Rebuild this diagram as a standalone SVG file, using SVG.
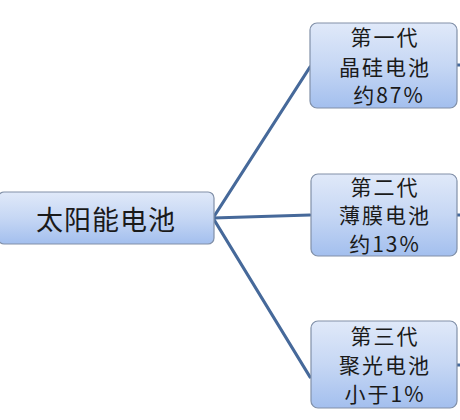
<svg xmlns="http://www.w3.org/2000/svg" width="460" height="420" viewBox="0 0 460 420">
<defs>
<linearGradient id="g" x1="0" y1="0" x2="0" y2="1">
<stop offset="0" stop-color="#e0e9f9"/>
<stop offset="0.5" stop-color="#c6d7f4"/>
<stop offset="1" stop-color="#a3bfee"/>
</linearGradient>
<style>
.box{fill:url(#g);stroke:#8190a8;stroke-width:1.2}
.t{font-family:"Noto Sans CJK SC","Liberation Serif",serif;fill:#1a1a1a;text-anchor:middle;dominant-baseline:central;font-size:21px;letter-spacing:2px}
.c{stroke:#46699a;stroke-width:3.2;fill:none;stroke-linecap:round}
</style>
</defs>
<rect width="460" height="420" fill="#ffffff"/>
<g id="connectors">
<line class="c" x1="213" y1="218" x2="310" y2="67"/>
<line class="c" x1="213" y1="218" x2="310" y2="215"/>
<line class="c" x1="213" y1="218" x2="310" y2="377"/>
<line class="c" x1="457" y1="65" x2="460" y2="65"/>
<line class="c" x1="457" y1="215" x2="460" y2="215"/>
<line class="c" x1="457" y1="365" x2="460" y2="365"/>
</g>
<g id="root">
<rect class="box" x="-2" y="192" width="216" height="52" rx="6"/>
<text class="t" x="106" y="218" style="font-size:27px;letter-spacing:1px">太阳能电池</text>
</g>
<g id="gen1">
<rect class="box" x="310" y="23" width="147" height="85" rx="7"/>
<text class="t" x="385" y="36">第一代</text>
<text class="t" x="385" y="66">晶硅电池</text>
<text class="t" x="389" y="94">约87%</text>
</g>
<g id="gen2">
<rect class="box" x="311" y="174" width="146" height="82" rx="7"/>
<text class="t" x="385" y="186">第二代</text>
<text class="t" x="385" y="214">薄膜电池</text>
<text class="t" x="385" y="243">约13%</text>
</g>
<g id="gen3">
<rect class="box" x="311" y="321" width="146" height="87" rx="7"/>
<text class="t" x="385" y="335">第三代</text>
<text class="t" x="385" y="364">聚光电池</text>
<text class="t" x="385" y="393">小于1%</text>
</g>
</svg>
